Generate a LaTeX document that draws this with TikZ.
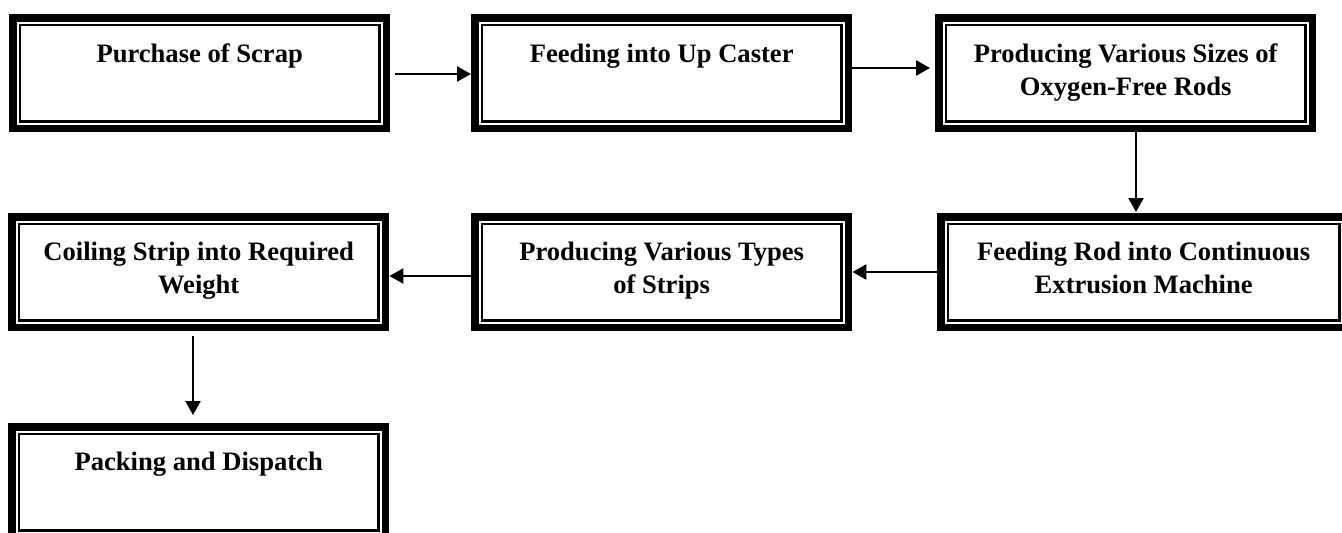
\documentclass[tikz,border=0pt]{standalone}
\usepackage{fontspec}
\setmainfont{Liberation Serif}
\usetikzlibrary{arrows.meta}
\tikzset{
  stagearea/.style={rectangle, inner sep=0pt, minimum height=118pt, anchor=north west},
  stagetext/.style={font=\bfseries\fontsize{26.6}{33}\selectfont, align=center, inner sep=0pt, anchor=base},
  flowarrow/.style={line width=2.4pt, -{Triangle[length=14pt,width=15pt]}},
}
% #1 name, #2 x, #3 y, #4 width, #5 baseline offset of last text line, #6 text
\newcommand\stagebox[6]{%
  \node[stagearea, minimum width=#4] (#1) at (#2,#3) {};
  \draw[line width=7.7pt] ([xshift=3.85pt,yshift=-3.85pt]#1.north west) rectangle ([xshift=-3.85pt,yshift=3.85pt]#1.south east);
  \draw[line width=2.2pt] ([xshift=11pt,yshift=-11pt]#1.north west) rectangle ([xshift=-11pt,yshift=11pt]#1.south east);
  \node[stagetext] (#1t) at ([yshift=-#5pt]#1.north) {#6};
}
\begin{document}
\begin{tikzpicture}[x=1pt,y=-1pt]
\useasboundingbox (0,0) rectangle (1342,533);
\stagebox{b1}{9}{14}{381pt}{48}{Purchase of Scrap}
\stagebox{b2}{471}{14}{381pt}{48}{Feeding into Up Caster}
\stagebox{b3}{935}{14}{381pt}{81}{Producing Various Sizes of\\Oxygen-Free Rods}
\stagebox{b4}{937}{213}{413pt}{80}{Feeding Rod into Continuous\\Extrusion Machine}
\stagebox{b5}{471}{213}{381pt}{80}{Producing Various Types\\of Strips}
\stagebox{b6}{8}{213}{381pt}{80}{Coiling Strip into Required\\Weight}
\stagebox{b7}{8}{423}{381pt}{47}{Packing and Dispatch}
\draw[flowarrow] ([shift={(5,60)}]b1.north east) -- ([shift={(0,60)}]b2.north west);
\draw[flowarrow] ([shift={(0,54)}]b2.north east) -- ([shift={(-5,54)}]b3.north west);
\draw[flowarrow] ([shift={(201,0)}]b3.south west) -- ([shift={(199,-1)}]b4.north west);
\draw[flowarrow] ([shift={(0,59)}]b4.north west) -- ([shift={(0,59)}]b5.north east);
\draw[flowarrow] ([shift={(0,63)}]b5.north west) -- ([shift={(0,63)}]b6.north east);
\draw[flowarrow] ([shift={(185,5)}]b6.south west) -- ([shift={(185,-8)}]b7.north west);
\end{tikzpicture}
\end{document}
